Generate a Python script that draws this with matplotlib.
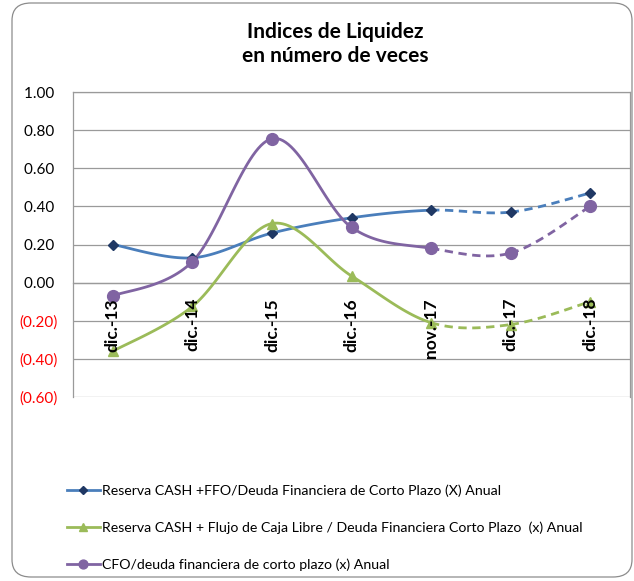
import numpy as np
import matplotlib
matplotlib.use('Agg')
import matplotlib.pyplot as plt
from matplotlib.lines import Line2D
from matplotlib.patches import FancyBboxPatch
from matplotlib.ticker import FuncFormatter

plt.rcParams['font.family'] = ['Lato', 'DejaVu Sans']

periods = ['dic.-13', 'dic.-14', 'dic.-15', 'dic.-16', 'nov.-17', 'dic.-17', 'dic.-18']
cash_ffo = [0.20, 0.13, 0.26, 0.34, 0.38, 0.37, 0.47]
cash_fcl = [-0.36, -0.125, 0.31, 0.035, -0.21, -0.22, -0.10]
cfo = [-0.07, 0.11, 0.755, 0.29, 0.18, 0.155, 0.40]
labels = ['Reserva CASH +FFO/Deuda Financiera de Corto Plazo (X) Anual',
          'Reserva CASH + Flujo de Caja Libre / Deuda Financiera Corto Plazo  (x) Anual',
          'CFO/deuda financiera de corto plazo (x) Anual']
N_SOLID = 5  # solid through nov.-17, dashed afterwards (projection)

BLUE, GREEN, PURPLE = '#4a7ebb', '#9bbb59', '#8064a2'
GRID = '#9a9a9a'

# pixel scale of the plot area, used so the smoothing matches Excel's look
PX_X, PX_Y = 79.5, 190.5


def smooth_segments(y, n=30):
    """Excel-like smoothed line: Bezier per segment, control = P +- (next-prev)/6."""
    x = np.arange(len(y), dtype=float) * PX_X
    yy = np.asarray(y, float) * PX_Y
    pts = np.column_stack([x, yy])
    segs = []
    t = np.linspace(0, 1, n)[:, None]
    for i in range(len(pts) - 1):
        p0 = pts[max(i - 1, 0)]
        p1, p2 = pts[i], pts[i + 1]
        p3 = pts[min(i + 2, len(pts) - 1)]
        c1 = p1 + (p2 - p0) / 6
        c2 = p2 - (p3 - p1) / 6
        b = ((1 - t) ** 3 * p1 + 3 * (1 - t) ** 2 * t * c1
             + 3 * (1 - t) * t ** 2 * c2 + t ** 3 * p2)
        segs.append((b[:, 0] / PX_X, b[:, 1] / PX_Y))
    return segs


fig = plt.figure(figsize=(6.34, 5.81), dpi=100)
fig.patches.append(FancyBboxPatch((12 / 634, 4 / 581), 620 / 634, 574 / 581,
                                  boxstyle='round,pad=0,rounding_size=0.03',
                                  transform=fig.transFigure, fc='white',
                                  ec='#8c8c8c', lw=0.9, zorder=-1))
ax = fig.add_axes([73 / 634, 1 - 397 / 581, 557 / 634, 305 / 581])
ax.set_facecolor('none')

series = [(cash_ffo, BLUE, 'D', '#1f3864', 5),
          (cash_fcl, GREEN, '^', GREEN, 7.5),
          (cfo, PURPLE, 'o', PURPLE, 8.5)]
handles = []
for (vals, col, mk, mcol, ms), lab in zip(series, labels):
    for i, (sx, sy) in enumerate(smooth_segments(vals)):
        ls = '-' if i < N_SOLID - 1 else (0, (3, 2))
        ax.plot(sx, sy, color=col, lw=2.0, ls=ls, solid_capstyle='round',
                dash_capstyle='butt', zorder=3)
    ax.plot(range(len(vals)), vals, ls='none', marker=mk, ms=ms,
            mfc=mcol, mec=mcol, zorder=4)
    handles.append(Line2D([], [], color=col, lw=2.0, marker=mk, ms=ms * 0.75,
                          mfc=mcol, mec=mcol))

ax.set_xlim(-0.5, len(periods) - 0.5)
ax.set_ylim(-0.6, 1.0)
ax.spines['bottom'].set_position(('data', 0))
ax.set_yticks(np.arange(-0.6, 1.01, 0.2))
ax.yaxis.set_major_formatter(FuncFormatter(
    lambda v, p: f'({abs(v):.2f})' if v < -1e-9 else f'{abs(v):.2f} '))
ax.grid(axis='y', color=GRID, lw=0.9)
ax.set_axisbelow(True)
ax.tick_params(axis='y', length=0, pad=11, labelsize=11)

ax.set_xticks(range(len(periods)))
ax.set_xticklabels(periods, rotation=90, fontweight='bold', fontsize=12.5,
                   va='top')
ax.tick_params(axis='x', length=0, pad=11)
ax.xaxis.set_zorder(5)  # category labels sit on top of the lines, as in Excel
for s in ax.spines.values():
    s.set_color(GRID)
    s.set_linewidth(0.9)

fig.canvas.draw()
for v, lbl in zip(ax.get_yticks(), ax.get_yticklabels()):
    if v < -1e-9:
        lbl.set_color('red')

fig.text(335 / 634, 1 - 44 / 581, 'Indices de Liquidez\nen número de veces',
         ha='center', va='center', fontsize=15, fontweight='bold',
         linespacing=1.3)

fig.legend(handles, labels, loc='upper left', bbox_to_anchor=(67 / 634, 1 - 484 / 581),
           frameon=False, fontsize=10.2, handlelength=2.3, handletextpad=0.15,
           labelspacing=1.75, borderpad=0, borderaxespad=0)

fig.savefig('out.png', dpi=100)
